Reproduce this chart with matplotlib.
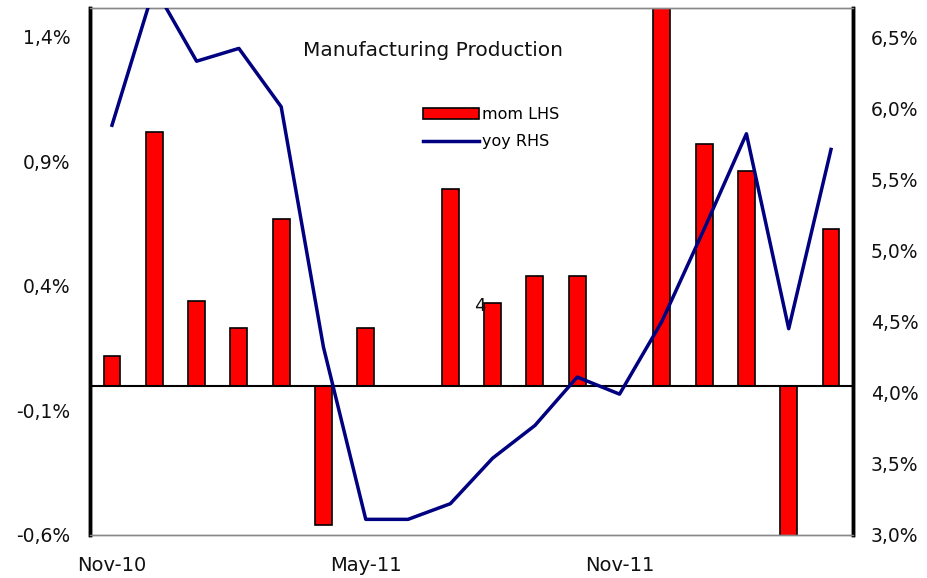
import matplotlib
matplotlib.use("Agg")
import matplotlib.pyplot as plt
from matplotlib.patches import Patch
from matplotlib.lines import Line2D
from matplotlib.ticker import FuncFormatter

plt.rcParams['font.family'] = ['DejaVu Sans']

months = ["Nov-10", "Dec-10", "Jan-11", "Feb-11", "Mar-11", "Apr-11", "May-11", "Jun-11",
          "Jul-11", "Aug-11", "Sep-11", "Oct-11", "Nov-11", "Dec-11", "Jan-12", "Feb-12",
          "Mar-12", "Apr-12"]
mom = [0.12, 1.02, 0.34, 0.23, 0.67, -0.56, 0.23, 0.0, 0.79, 0.33, 0.44, 0.44, 0.0,
       1.65, 0.97, 0.86, -0.75, 0.63]
yoy = [5.88, 6.85, 6.33, 6.42, 6.01, 4.32, 3.11, 3.11, 3.22, 3.54, 3.77, 4.11, 3.99,
       4.50, 5.15, 5.82, 4.45, 5.71]
xtick_labels = {0: "Nov-10", 6: "May-11", 12: "Nov-11"}
left_ticks = [-0.6, -0.1, 0.4, 0.9, 1.4]
right_ticks = [3.0, 3.5, 4.0, 4.5, 5.0, 5.5, 6.0, 6.5]

fig = plt.figure(figsize=(9.28, 5.78), dpi=100)
ax = fig.add_axes([90/928, 1-535/578, (853-90)/928, (535-8)/578])
ax2 = ax.twinx()
ax.set_zorder(ax2.get_zorder() - 1)
ax.patch.set_visible(True)
ax2.patch.set_visible(False)

x = list(range(len(months)))
ax.bar(x, mom, width=0.4, color='#ff0000', edgecolor='black', linewidth=1.2, zorder=2)
ax.axhline(0, color='black', linewidth=1.5, zorder=3)
ax2.plot(x, yoy, color='#000080', linewidth=2.5, zorder=4)

ax.set_xlim(-0.52, 17.52)
ax.set_ylim(-0.6, 1.516)
ax2.set_ylim(3.0, 6.704)

fmt = FuncFormatter(lambda v, p: f"{v:.1f}%".replace('.', ','))
ax.set_yticks(left_ticks)
ax.yaxis.set_major_formatter(fmt)
ax2.set_yticks(right_ticks)
ax2.yaxis.set_major_formatter(fmt)
ax.set_xticks(list(xtick_labels.keys()))
ax.set_xticklabels(list(xtick_labels.values()))

for a in (ax, ax2):
    a.tick_params(axis='both', length=0, labelsize=13.5, colors='#111111')
    a.spines['left'].set_color('black'); a.spines['left'].set_linewidth(2.5)
    a.spines['right'].set_color('black'); a.spines['right'].set_linewidth(2.5)
    a.spines['top'].set_color('#888888'); a.spines['top'].set_linewidth(1)
    a.spines['bottom'].set_color('#888888'); a.spines['bottom'].set_linewidth(1)
ax.tick_params(axis='y', pad=14)
ax2.tick_params(axis='y', pad=13)
ax.tick_params(axis='x', pad=15, labelsize=14)

ax.text(433/928, 1-50/578, "Manufacturing Production", transform=fig.transFigure,
        ha='center', va='center', fontsize=14.5, color='#111111')
ax.text(8.7, 0.32, "4", ha='center', va='center', fontsize=13, color='#111111')

handles = [Patch(facecolor='#ff0000', edgecolor='black', linewidth=1.2),
           Line2D([0], [0], color='#000080', linewidth=2.5)]
leg = fig.legend(handles, ["mom LHS", "yoy RHS"], loc='upper left',
                 bbox_to_anchor=(409/928, 1-93/578), frameon=False, fontsize=11.5,
                 handlelength=3.5, handletextpad=0.2, labelspacing=0.75)

fig.savefig("out.png", dpi=100)
